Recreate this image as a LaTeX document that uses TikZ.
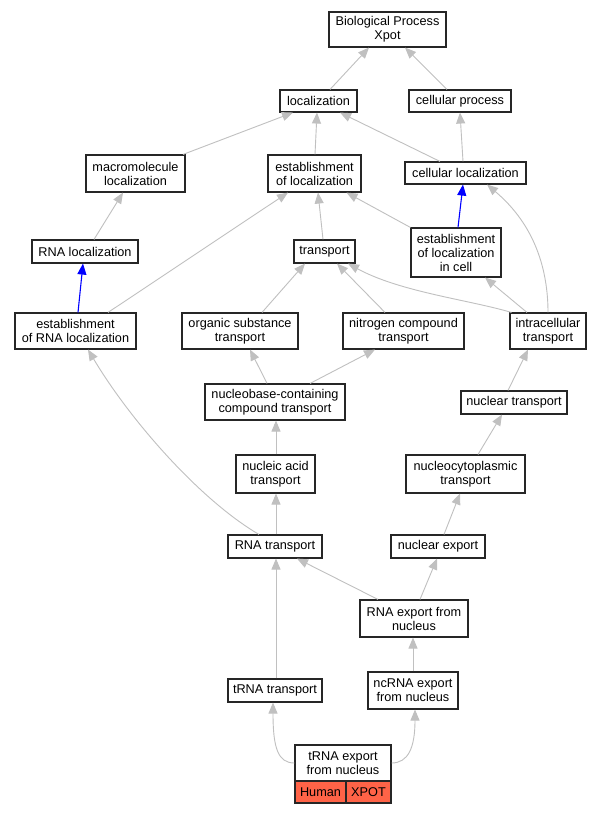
\documentclass[tikz,border=0pt]{standalone}
\usepackage{fontspec}
\setmainfont{Liberation Sans}
\usetikzlibrary{arrows.meta}
\definecolor{edgegray}{RGB}{192,192,192}
\definecolor{hum}{RGB}{255,99,71}
\begin{document}
\begin{tikzpicture}[x=1pt,y=-1pt,
 box/.style={draw=black!85, line width=1.1pt, fill=white, inner sep=0pt, align=center, font=\fontsize{12.7}{14}\selectfont},
 ed/.style={draw=edgegray, line width=0.9pt, -{Triangle[length=11pt,width=9pt]}},
 bl/.style={draw=blue, line width=1.1pt, -{Triangle[length=11pt,width=9pt]}}]
\useasboundingbox[fill=white] (0,0) rectangle (601,813);
% nodes
\node[box, minimum width=117pt, minimum height=35pt] (bp) at (387.5,29.5) {Biological Process\\Xpot};
\node[box, minimum width=77pt, minimum height=22pt] (loc) at (318.5,101) {localization};
\node[box, minimum width=102pt, minimum height=22pt] (cp) at (460,101) {cellular process};
\node[box, minimum width=99pt, minimum height=37pt] (macro) at (135.5,173.5) {macromolecule\\localization};
\node[box, minimum width=93pt, minimum height=37pt] (estloc) at (314.5,173.5) {establishment\\of localization};
\node[box, minimum width=121pt, minimum height=22pt] (cellloc) at (465.5,173) {cellular localization};
\node[box, minimum width=106pt, minimum height=23pt] (rnaloc) at (85,251.5) {RNA localization};
\node[box, minimum width=61pt, minimum height=23pt] (transport) at (324.5,251.5) {transport};
\node[box, minimum width=90pt, minimum height=49pt] (estcell) at (456,252.5) {establishment\\of localization\\in cell};
\node[box, minimum width=121pt, minimum height=36pt] (estrna) at (75.5,331) {establishment\\of RNA localization};
\node[box, minimum width=116pt, minimum height=36pt] (organic) at (240,331) {organic substance\\transport};
\node[box, minimum width=121pt, minimum height=36pt] (nitrogen) at (403.5,331) {nitrogen compound\\transport};
\node[box, minimum width=76pt, minimum height=36pt] (intra) at (548,331) {intracellular\\transport};
\node[box, minimum width=140pt, minimum height=36pt] (nucleobase) at (275,402) {nucleobase-containing\\compound transport};
\node[box, minimum width=106pt, minimum height=23pt] (nuctrans) at (514,402.5) {nuclear transport};
\node[box, minimum width=79pt, minimum height=38pt] (nucacid) at (275.5,474) {nucleic acid\\transport};
\node[box, minimum width=119pt, minimum height=38pt] (nucleocyto) at (465.5,474) {nucleocytoplasmic\\transport};
\node[box, minimum width=94pt, minimum height=23pt] (rnatrans) at (275,546.5) {RNA transport};
\node[box, minimum width=94pt, minimum height=23pt] (nucexport) at (438,546.5) {nuclear export};
\node[box, minimum width=108pt, minimum height=37pt] (rnaexport) at (414,618.5) {RNA export from\\nucleus};
\node[box, minimum width=94pt, minimum height=23pt] (trnatrans) at (275,690.5) {tRNA transport};
\node[box, minimum width=90pt, minimum height=37pt] (ncrna) at (413,690.5) {ncRNA export\\from nucleus};
\node[box, minimum width=96pt, minimum height=36pt] (trnaexp) at (343,763) {tRNA export\\from nucleus};
\node[box, fill=hum, minimum width=51pt, minimum height=22pt] (human) at (320.5,792) {Human};
\node[box, fill=hum, minimum width=45pt, minimum height=22pt] (xpot) at (368.5,792) {XPOT};
% edges
\draw[ed] ([xshift=11.5pt]loc.north) -- ([xshift=-18.5pt]bp.south);
\draw[ed] ([xshift=-13pt]cp.north) -- ([xshift=17.5pt]bp.south);
\draw[ed] ([xshift=47.5pt]macro.north) -- ([xshift=-25.5pt]loc.south);
\draw[ed] ([xshift=0.5pt]estloc.north) -- ([xshift=-1.5pt]loc.south);
\draw[ed] ([xshift=-25.5pt]cellloc.north) -- ([xshift=21.5pt]loc.south);
\draw[ed] ([xshift=-2.5pt]cellloc.north) -- (cp.south);
\draw[ed] ([xshift=9pt]rnaloc.north) -- ([xshift=-12.5pt]macro.south);
\draw[ed] ([xshift=-1.5pt]transport.north) -- ([xshift=3.5pt]estloc.south);
\draw[ed] (estcell.north west) -- ([xshift=32pt]estloc.south);
\draw[bl] ([xshift=2pt]estcell.north) -- ([xshift=-2.5pt]cellloc.south);
\draw[bl] ([xshift=2.5pt]estrna.north) -- ([xshift=-2pt]rnaloc.south);
\draw[ed] ([xshift=32.5pt]estrna.north) -- ([xshift=-26.5pt]estloc.south);
\draw[ed] ([xshift=22pt]organic.north) -- ([xshift=-19.5pt]transport.south);
\draw[ed] ([xshift=-18.5pt]nitrogen.north) -- ([xshift=12.5pt]transport.south);
\draw[ed] ([xshift=2pt]intra.north west) .. controls (470,300) and (400,292) .. ([xshift=23.5pt]transport.south);
\draw[ed] ([xshift=-21pt]intra.north) -- ([xshift=29pt]estcell.south);
\draw[ed] (intra.north) .. controls (548,270) and (535,225) .. ([xshift=21.5pt]cellloc.south);
\draw[ed] ([xshift=-8pt]nucleobase.north) -- ([xshift=10pt]organic.south);
\draw[ed] ([xshift=35pt]nucleobase.north) -- ([xshift=-28.5pt]nitrogen.south);
\draw[ed] ([xshift=-6pt]nuctrans.north) -- ([xshift=-20pt]intra.south);
\draw[ed] ([xshift=0.5pt]nucacid.north) -- ([xshift=1pt]nucleobase.south);
\draw[ed] ([xshift=12.5pt]nucleocyto.north) -- ([xshift=-12pt]nuctrans.south);
\draw[ed] ([xshift=1pt]rnatrans.north) -- ([xshift=0.5pt]nucacid.south);
\draw[ed] ([xshift=-16pt]rnatrans.north) .. controls (200,500) and (130,420) .. ([xshift=12.5pt]estrna.south);
\draw[ed] ([xshift=6pt]nucexport.north) -- ([xshift=-5.5pt]nucleocyto.south);
\draw[ed] ([xshift=-36pt]rnaexport.north) -- ([xshift=22pt]rnatrans.south);
\draw[ed] ([xshift=6pt]rnaexport.north) -- ([xshift=-1pt]nucexport.south);
\draw[ed] (ncrna.north) -- ([xshift=-1pt]rnaexport.south);
\draw[ed] ([xshift=1pt]trnatrans.north) -- ([xshift=1pt]rnatrans.south);
\draw[ed] (trnaexp.west) .. controls (278,763) and (273,748) .. ([xshift=-2pt]trnatrans.south);
\draw[ed] (trnaexp.east) .. controls (408,763) and (415,748) .. ([xshift=2pt]ncrna.south);
\end{tikzpicture}
\end{document}
